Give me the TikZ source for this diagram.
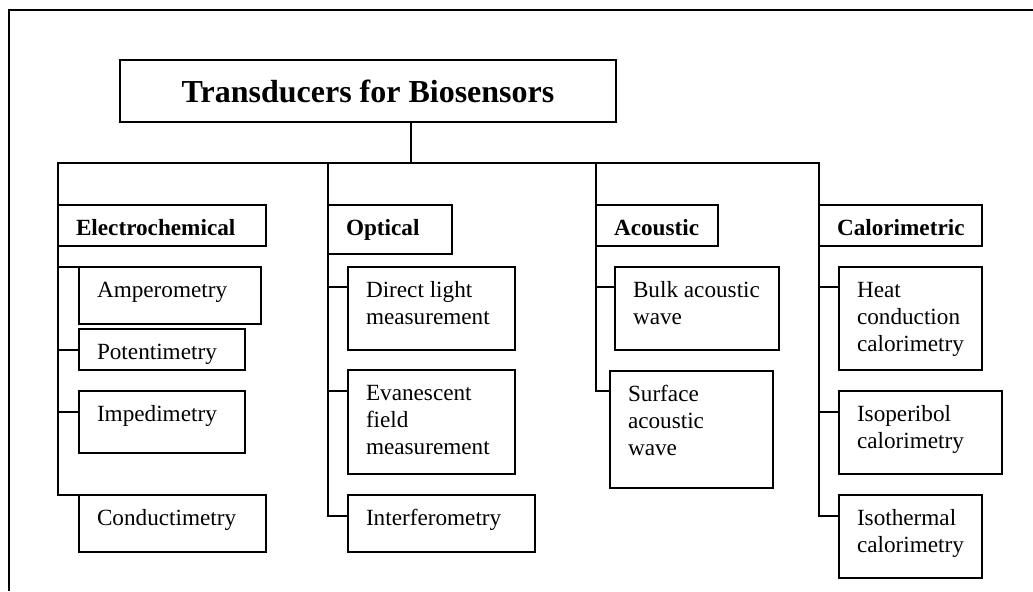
\documentclass[tikz,border=0pt]{standalone}
\usepackage{fontspec}
\setmainfont{Liberation Serif}
\newlength{\pxu}
\setlength{\pxu}{0.5pt}
% text set at the top left of a box of #1 x #2 px
\newcommand{\boxtext}[3]{\parbox[t][\dimexpr#2\pxu-11.1pt\relax][t]{\dimexpr#1\pxu-18pt\relax}{\raggedright\strut#3}}
\begin{document}
\begin{tikzpicture}[x=0.5pt, y=-0.5pt, line width=0.9pt,
	box/.style={draw, anchor=north west, outer sep=0pt, inner xsep=9pt, inner ysep=5.55pt, font=\fontsize{11.6}{13.5}\selectfont},
	cat/.style={box, font=\fontsize{11.6}{13.5}\selectfont\bfseries}]
	\useasboundingbox (0,0) rectangle (1033,591);
	\draw (9,591) -- (9,10) -- (1033,10); %marco
	\node[draw, outer sep=0pt, minimum width=248pt, minimum height=31pt, font=\fontsize{16}{19}\selectfont\bfseries] (title) at (368,91) {Transducers for Biosensors};
	\coordinate (bus) at (411,163);
	% categorias
	\node[cat] (elec) at (58,205) {\boxtext{208}{41}{Electrochemical}};
	\node[cat] (opt) at (328,205) {\boxtext{124}{49}{Optical}};
	\node[cat] (acou) at (596,205) {\boxtext{122}{41}{Acoustic}};
	\node[cat] (calo) at (819,205) {\boxtext{163}{41}{Calorimetric}};
	\draw (title.south -| bus) -- (bus);
	\draw (elec.north west) -- (elec.north west |- bus) -- (calo.north west |- bus) -- (calo.north west);
	\draw (opt.north west) -- (opt.north west |- bus);
	\draw (acou.north west) -- (acou.north west |- bus);
	% electroquimicos
	\node[box] (amp) at (79,267) {\boxtext{182}{57}{Amperometry}};
	\node[box] (pot) at (79,329) {\boxtext{166}{41}{Potentimetry}};
	\node[box] (imp) at (79,391) {\boxtext{166}{62}{Impedimetry}};
	\node[box] (cond) at (79,495) {\boxtext{187}{57}{Conductimetry}};
	\draw (elec.south west) |- (amp.north west);
	\draw (elec.south west) |- ([yshift=-10.5pt]pot.north west);
	\draw (elec.south west) |- ([yshift=-10.5pt]imp.north west);
	\draw (elec.south west) |- (cond.north west);
	% opticos
	\node[box] (dir) at (348,267) {\boxtext{167}{83}{Direct light\\measurement}};
	\node[box] (eva) at (348,370) {\boxtext{167}{104}{Evanescent\\field\\measurement}};
	\node[box] (inter) at (348,495) {\boxtext{187}{57}{Interferometry}};
	\draw (opt.south west) |- ([yshift=-10pt]dir.north west);
	\draw (opt.south west) |- ([yshift=-10.5pt]eva.north west);
	\draw (opt.south west) |- ([yshift=-10.5pt]inter.north west);
	% acusticos
	\node[box] (bulk) at (615,267) {\boxtext{164}{83}{Bulk acoustic\\wave}};
	\node[box] (surf) at (610,371) {\boxtext{163}{117}{Surface\\acoustic\\wave}};
	\draw (acou.south west) |- ([yshift=-10pt]bulk.north west);
	\draw (acou.south west) |- ([yshift=-10pt]surf.north west);
	% calorimetricos
	\node[box] (heat) at (839,267) {\boxtext{143}{103}{Heat\\conduction\\calorimetry}};
	\node[box] (isop) at (839,391) {\boxtext{163}{83}{Isoperibol\\calorimetry}};
	\node[box] (isot) at (839,495) {\boxtext{143}{83}{Isothermal\\calorimetry}};
	\draw (calo.south west) |- ([yshift=-10pt]heat.north west);
	\draw (calo.south west) |- ([yshift=-10.5pt]isop.north west);
	\draw (calo.south west) |- ([yshift=-10.5pt]isot.north west);
\end{tikzpicture}
\end{document}
